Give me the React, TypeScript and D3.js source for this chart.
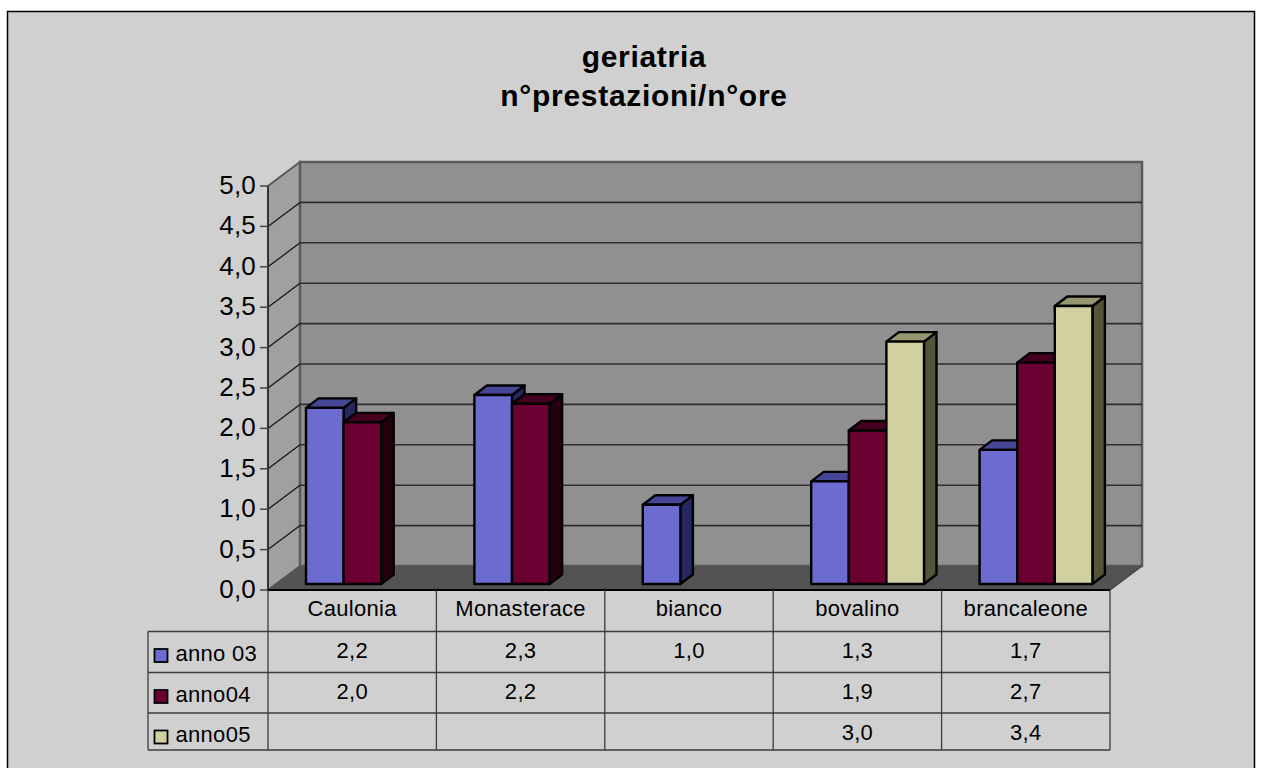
import React from "react";
import * as d3 from "d3";

const categories = ["Caulonia", "Monasterace", "bianco", "bovalino", "brancaleone"];
const seriesNames = ["anno 03", "anno04", "anno05"];
const anno03 = [2.18, 2.34, 0.98, 1.27, 1.66];
const anno04 = [2.0, 2.23, null, 1.9, 2.74];
const anno05 = [null, null, null, 3.0, 3.44];
const seriesValues: (number | null)[][] = [anno03, anno04, anno05];
const yTicks = [0, 0.5, 1, 1.5, 2, 2.5, 3, 3.5, 4, 4.5, 5];
const fills = ["#6b6bd0", "#6b0033", "#d0d0a0"];
const tops = ["#464696", "#45001f", "#969670"];
const sides = ["#262660", "#260010", "#545438"];

const FONT = "'Liberation Sans', Arial, sans-serif";
const fmt = (v: number) => d3.format(".1f")(v).replace(".", ",");

export default function App() {
  const X0 = 268, X1 = 1110, Y0 = 590, Y1 = 186, DX = 32, DY = -24;
  const x = d3.scaleBand<string>().domain(categories).range([X0, X1]);
  const y = d3.scaleLinear().domain([0, 5]).range([Y0, Y1]);
  const rowY = [631.5, 672.5, 713, 750];
  const barW = 37.6, barInset = 38, depthX = 12.5, depthY = -9.5, barDrop = 6;
  const poly = (pts: number[][]) => pts.map((p) => p.join(",")).join(" ");

  return (
    <svg width={1263} height={768} style={{ position: "absolute", left: 0, top: 0, display: "block" }} fontFamily={FONT}>
      <rect x={0} y={0} width={1263} height={768} fill="#fff" />
      <rect x={7.5} y={11.5} width={1247} height={770} fill="#d0d0d0" stroke="#000" strokeWidth={1.5} />

      <text textAnchor="middle" fontWeight="bold" fontSize={30} letterSpacing={0.7} fill="#000">
        <tspan x={644} y={67}>geriatria</tspan>
        <tspan x={644} y={106}>n°prestazioni/n°ore</tspan>
      </text>

      {/* walls */}
      <polygon points={poly([[X0, Y0], [X0 + DX, Y0 + DY], [X0 + DX, Y1 + DY], [X0, Y1]])} fill="#a0a0a0" stroke="#5a5a5a" strokeWidth={2} />
      <rect x={X0 + DX} y={Y1 + DY} width={X1 - X0} height={Y0 - Y1} fill="#909090" stroke="#5a5a5a" strokeWidth={2.5} />
      <polygon points={poly([[X0, Y0], [X1, Y0], [X1 + DX, Y0 + DY], [X0 + DX, Y0 + DY]])} fill="#525252" />

      {/* grid */}
      {yTicks.slice(1, -1).map((t) => (
        <g key={t}>
          <line x1={X0} x2={X0 + DX} y1={y(t)} y2={y(t) + DY} stroke="#111" strokeWidth={1.2} />
          <line x1={X0 + DX} x2={X1 + DX} y1={y(t) + DY} y2={y(t) + DY} stroke="#2e2e2e" strokeWidth={1.6} />
        </g>
      ))}

      {/* y axis */}
      <line x1={X0} x2={X0} y1={Y1} y2={Y0} stroke="#333" strokeWidth={2} />
      {yTicks.map((t) => (
        <g key={t}>
          <line x1={X0 - 8} x2={X0} y1={y(t)} y2={y(t)} stroke="#444" strokeWidth={1.5} />
          <text x={256} y={y(t) + 8} textAnchor="end" fontSize={26} letterSpacing={0.2} fill="#000">{fmt(t)}</text>
        </g>
      ))}

      {/* bars */}
      {categories.map((c, ci) =>
        seriesValues.map((vals, si) => {
          const v = vals[ci];
          if (v == null) return null;
          const bx = (x(c) as number) + barInset + si * barW;
          const by = Y0 - barDrop;
          const ty = y(v) - barDrop;
          return (
            <g key={c + si} stroke="#000" strokeWidth={2.4} strokeLinejoin="round">
              <polygon points={poly([[bx + barW, ty], [bx + barW + depthX, ty + depthY], [bx + barW + depthX, by + depthY], [bx + barW, by]])} fill={sides[si]} />
              <polygon points={poly([[bx, ty], [bx + depthX, ty + depthY], [bx + barW + depthX, ty + depthY], [bx + barW, ty]])} fill={tops[si]} />
              <rect x={bx} y={ty} width={barW} height={by - ty} fill={fills[si]} />
            </g>
          );
        })
      )}

      <line x1={X0} x2={X1} y1={Y0} y2={Y0} stroke="#000" strokeWidth={2} />
      <line x1={X1} x2={X1 + DX} y1={Y0} y2={Y0 + DY} stroke="#444" strokeWidth={1.5} />

      {/* data table */}
      <g stroke="#3c3c3c" strokeWidth={1.3}>
        {[...categories.map((c) => x(c) as number), X1].map((vx) => (
          <line key={vx} x1={vx} x2={vx} y1={Y0} y2={rowY[3]} />
        ))}
        <line x1={148} x2={148} y1={rowY[0]} y2={rowY[3]} />
        {rowY.map((ry) => (
          <line key={ry} x1={148} x2={X1} y1={ry} y2={ry} />
        ))}
      </g>
      {categories.map((c) => (
        <text key={c} x={(x(c) as number) + x.bandwidth() / 2} y={616} textAnchor="middle" fontSize={22} letterSpacing={0.3} fill="#000">{c}</text>
      ))}
      {seriesNames.map((n, si) => (
        <g key={n}>
          <rect x={154.5} y={rowY[si] + 17.5} width={13} height={13} fill={fills[si]} stroke="#000" strokeWidth={1.8} />
          <text x={175.5} y={rowY[si] + 29} fontSize={22} letterSpacing={0.3} fill="#000">{n}</text>
          {seriesValues[si].map((v, ci) =>
            v == null ? null : (
              <text key={ci} x={(x(categories[ci]) as number) + x.bandwidth() / 2} y={rowY[si] + 26.5} textAnchor="middle" fontSize={22} letterSpacing={0.3} fill="#000">{fmt(v)}</text>
            )
          )}
        </g>
      ))}
    </svg>
  );
}
